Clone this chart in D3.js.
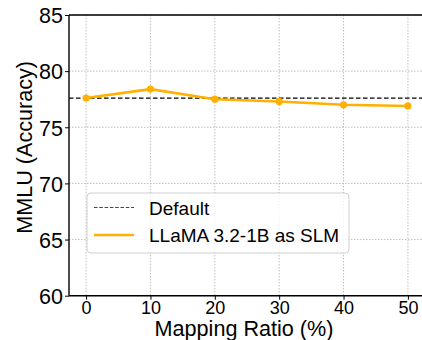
<!DOCTYPE html>
<html>
<head>
<meta charset="utf-8">
<script src="https://cdn.jsdelivr.net/npm/d3@7"></script>
<style>
  body { margin: 0; background: #fff; }
  svg { display: block; font-family: "Liberation Sans", Arial, sans-serif; }
</style>
</head>
<body>
<div id="chart"></div>
<script>
// values
const ratios = [0, 10, 20, 30, 40, 50]
const accuracy = [77.6, 78.4, 77.5, 77.3, 77.0, 76.9]
const defaultAcc = 77.6
const xTicks = [0, 10, 20, 30, 40, 50]
const yTicks = [60, 65, 70, 75, 80, 85]
const legendLabels = ["Default", "LLaMA 3.2-1B as SLM"]

const width = 422, height = 340
const margin = {top: 15, right: -2, bottom: 44, left: 69}
const orange = "#ffb000"

const svg = d3.select("#chart").append("svg")
  .attr("width", width).attr("height", height)

let x = d3.scaleLinear()
  .domain([-2.5, 52.5])
  .range([margin.left + 1, width - margin.right])

let y = d3.scaleLinear()
  .domain([60, 85])
  .range([height - margin.bottom - 0.3, margin.top])

// grid
svg.append("g")
  .selectAll("line")
  .data(xTicks)
  .join("line")
  .attr("x1", d => x(d)).attr("x2", d => x(d))
  .attr("y1", y(85)).attr("y2", y(60))
  .attr("stroke", "#b0b0b0").attr("stroke-width", 0.8)
  .attr("stroke-dasharray", "1.5,1.5")

svg.append("g")
  .selectAll("line")
  .data(yTicks)
  .join("line")
  .attr("x1", margin.left).attr("x2", width)
  .attr("y1", d => y(d)).attr("y2", d => y(d))
  .attr("stroke", "#b0b0b0").attr("stroke-width", 0.8)
  .attr("stroke-dasharray", "1.5,1.5")

// default dashed line
svg.append("line")
  .attr("x1", margin.left).attr("x2", width)
  .attr("y1", y(defaultAcc)).attr("y2", y(defaultAcc))
  .attr("stroke", "#000").attr("stroke-width", 1.3)
  .attr("stroke-dasharray", "4.5,2.5")

// series
const pts = ratios.map((r, i) => [r, accuracy[i]])
svg.append("path")
  .datum(pts)
  .attr("fill", "none")
  .attr("stroke", orange).attr("stroke-width", 2.6)
  .attr("d", d3.line().x(d => x(d[0])).y(d => y(d[1])))

svg.append("g")
  .selectAll("circle")
  .data(pts)
  .join("circle")
  .attr("cx", d => x(d[0])).attr("cy", d => y(d[1]))
  .attr("r", 3.6).attr("fill", orange)

// axes
let xAxis = g => g
  .attr("transform", `translate(0,${y(60)})`)
  .call(d3.axisBottom(x).tickValues(xTicks).tickSize(4).tickPadding(2).tickSizeOuter(0))
  .call(g => g.select(".domain").remove())
  .call(g => g.selectAll("text").attr("font-size", 18).attr("fill", "#000"))

let yAxis = g => g
  .attr("transform", `translate(${margin.left},0)`)
  .call(d3.axisLeft(y).tickValues(yTicks).tickSize(4).tickPadding(2).tickSizeOuter(0))
  .call(g => g.select(".domain").remove())
  .call(g => g.selectAll("text").attr("font-size", 21.5).attr("fill", "#000").attr("dy", "0.36em"))

svg.append("g").call(xAxis)
svg.append("g").call(yAxis)

// spines
svg.append("line").attr("x1", margin.left).attr("x2", margin.left)
  .attr("y1", margin.top).attr("y2", y(60)).attr("stroke", "#000").attr("stroke-width", 1.4)
svg.append("line").attr("x1", margin.left).attr("x2", width)
  .attr("y1", y(60)).attr("y2", y(60)).attr("stroke", "#000").attr("stroke-width", 1.4)
svg.append("line").attr("x1", margin.left).attr("x2", width)
  .attr("y1", margin.top).attr("y2", margin.top).attr("stroke", "#000").attr("stroke-width", 1.4)

// axis labels
svg.append("text")
  .attr("x", 244).attr("y", 335.5)
  .attr("text-anchor", "middle").attr("font-size", 21.6)
  .text("Mapping Ratio (%)")

svg.append("text")
  .attr("transform", `translate(32,${(margin.top + y(60)) / 2 - 8}) rotate(-90)`)
  .attr("text-anchor", "middle").attr("font-size", 21.6)
  .text("MMLU (Accuracy)")

// legend
const lg = svg.append("g").attr("transform", "translate(87,193)")
lg.append("rect")
  .attr("width", 262).attr("height", 60).attr("rx", 4)
  .attr("fill", "#fff").attr("fill-opacity", 0.8)
  .attr("stroke", "#d0d0d0").attr("stroke-width", 1)

lg.append("line").attr("x1", 7).attr("x2", 47).attr("y1", 14.5).attr("y2", 14.5)
  .attr("stroke", "#444").attr("stroke-width", 1.2).attr("stroke-dasharray", "3.5,1.8")
lg.append("line").attr("x1", 7).attr("x2", 47).attr("y1", 42).attr("y2", 42)
  .attr("stroke", orange).attr("stroke-width", 2.6)

lg.selectAll("text")
  .data(legendLabels)
  .join("text")
  .attr("x", 62).attr("y", (d, i) => 21.5 + i * 27.5)
  .attr("font-size", 19)
  .text(d => d)
</script>
</body>
</html>
